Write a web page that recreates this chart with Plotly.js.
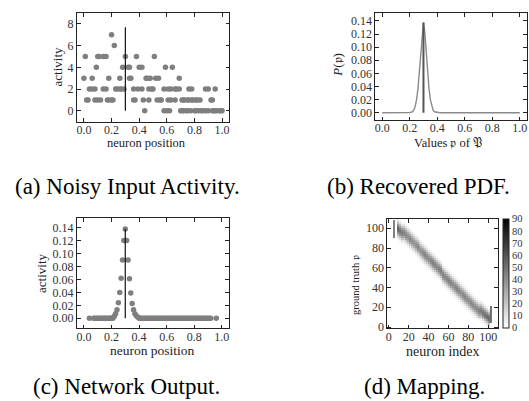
<!DOCTYPE html>
<html><head><meta charset="utf-8">
<script src="https://cdn.plot.ly/plotly-3.0.1.min.js"></script>
<style>html,body{margin:0;padding:0;background:#fff}#chart{width:529px;height:401px}</style>
</head><body><div id="chart"></div><script>
// ---------- (a) Noisy Input Activity: neuron positions grouped by activity level ----------
const actLevels = [7, 6, 5, 4, 3, 2, 1, 0];
const act7Pos = [0.20];
const act6Pos = [0.22];
const act5Pos = [0.01,0.10,0.11,0.14,0.16,0.30,0.38,0.51];
const act4Pos = [0.09,0.28,0.32,0.33,0.40,0.42,0.59,0.64];
const act3Pos = [0.00,0.06,0.18,0.26,0.33,0.34,0.45,0.46,0.48,0.52,0.54,0.69];
const act2Pos = [0.04,0.06,0.08,0.14,0.16,0.23,0.24,0.26,0.27,0.29,0.36,0.39,0.42,0.47,0.49,0.50,0.58,0.61,0.63,0.66,0.67,0.69,0.76,0.78,0.88,0.90,0.95];
const act1Pos = [0.02,0.03,0.08,0.10,0.12,0.17,0.18,0.20,0.21,0.36,0.37,0.43,0.47,0.53,0.55,0.56,0.61,0.63,0.66,0.71,0.72,0.73,0.75,0.76,0.78,0.79,0.81,0.82,0.84,0.92,0.93];
const act0Pos = [0.44,0.58,0.60,0.62,0.70,0.71,0.72,0.74,0.75,0.77,0.80,0.81,0.83,0.85,0.86,0.88,0.90,0.93,0.94,0.95,0.96,0.98,0.99,1.00];
const trueValue = 0.30;
const aLineTop = 7.7;

// ---------- (b) Recovered PDF ----------
const bX = [0.00,0.10,0.18,0.20,0.22,0.23,0.24,0.25,0.26,0.27,0.28,0.29,0.30,0.31,0.32,0.33,0.34,0.35,0.36,0.37,0.38,0.40,0.42,0.50,1.00];
const bP = [0,0,0,0.0002,0.0015,0.004,0.010,0.020,0.037,0.062,0.092,0.122,0.138,0.122,0.092,0.062,0.037,0.020,0.010,0.004,0.0015,0.0002,0,0,0];
const bLineTop = 0.137;

// ---------- (c) Network Output ----------
const cPos = [0.04,
 0.07,0.08,0.09,0.10,0.11,0.12,0.13,0.14,0.15,0.16,
 0.17,0.18,0.19,0.20,0.21,0.22,0.23,0.24,0.25,0.26,
 0.27,0.28,0.29,0.30,0.31,0.32,0.33,0.34,0.35,0.36,
 0.37,0.38,0.39,0.40,0.41,0.42,0.43,0.44,0.45,0.46,
 0.47,0.48,0.49,0.50,0.51,0.52,0.53,0.54,0.55,0.56,
 0.57,0.58,0.59,0.60,0.61,0.62,0.63,0.64,0.65,0.66,
 0.67,0.68,0.69,0.70,0.71,0.72,0.73,0.74,0.75,0.76,
 0.77,0.78,0.79,0.80,0.81,0.82,0.83,0.84,0.85,0.86,
 0.87,0.88,0.89,0.90,0.91,0.92,
 0.96];
const cAct = [0,
 0,0,0,0,0,0,0,0,0,0,
 0,0,0,0,0,0.003,0.007,0.013,0.024,0.040,
 0.062,0.090,0.120,0.138,0.120,0.090,0.061,0.039,0.023,0.013,
 0.007,0.004,0.002,0,0,0,0,0,0,0,
 0,0,0,0,0,0,0,0,0,0,
 0,0,0,0,0,0,0,0,0,0,
 0,0,0,0,0,0,0,0,0,0,
 0,0,0,0,0,0,0,0,0,0,
 0,0,0,0,0,0,
 0];
const cLineTop = 0.138;

// ---------- (d) Mapping: band of counts (neuron index vs ground truth) ----------
const dIdx = [9,11,13,15,17,19,21,23,25,27,29,31,33,35,37,39,41,43,45,47,49,51,53,55,57,59,61,63,65,67,69,71,73,75,77,79,81,83,85,87,89,91,93,95,97,99,101];
const dCenter = [100,98,96,95,93,91,89,87,85,83,81,79,77,75,73,71,69,67,65,63,61,59,57,54,52,50,48,46,44,42,40,38,36,34,32,30,28,26,24,22,20,18,17,15,13,11,9];
const dPeak = [55,50,46,44,42,40,42,40,38,40,42,40,38,42,44,42,40,43,45,44,42,44,46,44,42,43,45,43,41,42,44,42,40,42,43,41,40,42,41,40,42,44,46,48,50,52,55];
const dProfile = [8,22,45,72,92,100,92,72,45,22,8]; // percent of peak at offsets -10..10 (step 2)
const dStreakX = [5, 103];
const dStreakY0 = [91, 4];
const dStreakY1 = [107, 21];
const dStreakZ = [45, 50];
const dTicks = [0,10,20,30,40,50,60,70,80,90];

// ---------- build ----------
const W = 529, H = 401;
const fx = v => v / W, fy = v => 1 - v / H;
const serif = "'Liberation Serif', 'Times New Roman', Times, serif";
const tickCol = '#333333', lineCol = '#222222', dotCol = '#7f7f7f';

const aX = [], aY = [];
[act7Pos, act6Pos, act5Pos, act4Pos, act3Pos, act2Pos, act1Pos, act0Pos].forEach((row, i) => {
  row.forEach(p => { aX.push(p); aY.push(actLevels[i]); });
});

// heatmap grid
const gx = [], gy = [];
for (let v = 1; v < 110; v += 2) { gx.push(v); gy.push(v); }
const z = gy.map(() => gx.map(() => 0));
const half = (dProfile.length - 1) / 2;
dIdx.forEach((xc, ci) => {
  const col = gx.indexOf(xc);
  gy.forEach((yc, ri) => {
    const k = Math.round((yc - dCenter[ci]) / 2) + half;
    if (k >= 0 && k < dProfile.length) z[ri][col] = dPeak[ci] * dProfile[k] / 100;
  });
});
dStreakX.forEach((xs, si) => {
  const col = gx.indexOf(xs);
  gy.forEach((yc, ri) => {
    if (yc >= dStreakY0[si] && yc <= dStreakY1[si]) z[ri][col] = dStreakZ[si];
  });
});

const traces = [
  {type:'scatter', mode:'markers', x:aX, y:aY, xaxis:'x', yaxis:'y',
   marker:{color:dotCol, size:5.5}, hoverinfo:'skip'},
  {type:'scatter', mode:'lines', x:[trueValue,trueValue], y:[0,aLineTop], xaxis:'x', yaxis:'y',
   line:{color:'#111', width:1.2}},
  {type:'scatter', mode:'lines', x:bX, y:bP, xaxis:'x2', yaxis:'y2',
   line:{color:'#8a8a8a', width:1.4}},
  {type:'scatter', mode:'lines', x:[trueValue,trueValue], y:[0,bLineTop], xaxis:'x2', yaxis:'y2',
   line:{color:'#555', width:2}},
  {type:'scatter', mode:'markers', x:cPos, y:cAct, xaxis:'x3', yaxis:'y3',
   marker:{color:dotCol, size:5.5}},
  {type:'scatter', mode:'lines', x:[trueValue,trueValue], y:[0,cLineTop], xaxis:'x3', yaxis:'y3',
   line:{color:'#111', width:1.2}},
  {type:'heatmap', x:gx, y:gy, z:z, xaxis:'x4', yaxis:'y4', zmin:0, zmax:90,
   colorscale:[[0,'#ffffff'],[1,'#000000']], showscale:true,
   colorbar:{x:fx(503.3), xanchor:'left', y:fy(273.3), yanchor:'middle',
     thicknessmode:'pixels', thickness:6, lenmode:'pixels', len:108.7,
     xpad:0, ypad:0, outlinewidth:1, outlinecolor:lineCol,
     tickvals:dTicks, ticks:'', ticklen:0,
     tickfont:{family:serif, size:10.5, color:tickCol}}}
];

function ax(dom, range, dtick, fmt, anchor, isX) {
  const o = {domain:dom, range:range, dtick:dtick, tick0:0, tickformat:fmt, anchor:anchor,
    showline:true, mirror:'ticks', linecolor:lineCol, linewidth:1,
    ticks:'inside', ticklen:3.5, tickwidth:1, tickcolor:lineCol,
    showgrid:false, zeroline:false,
    tickfont:{family:serif, size:12, color:tickCol}};
  if (isX) o.ticklabelstandoff = -3;
  return o;
}

const layout = {
  width:W, height:H, margin:{l:0,r:0,t:0,b:0}, showlegend:false,
  font:{family:serif},
  paper_bgcolor:'#fff', plot_bgcolor:'rgba(0,0,0,0)',
  xaxis: ax([fx(77),fx(229)], [-0.05,1.05], 0.2, '.1f', 'y', true),
  yaxis: ax([fy(121.7),fy(13)], [-1,9], 2, 'd', 'x'),
  xaxis2: ax([fx(375.3),fx(526.7)], [-0.05,1.05], 0.2, '.1f', 'y2', true),
  yaxis2: ax([fy(120),fy(13)], [-0.011,0.152], 0.02, '.2f', 'x2'),
  xaxis3: ax([fx(77),fx(228.7)], [-0.05,1.05], 0.2, '.1f', 'y3', true),
  yaxis3: ax([fy(328.3),fy(218.3)], [-0.0155,0.1545], 0.02, '.2f', 'x3'),
  xaxis4: ax([fx(387.3),fx(497.7)], [-1.5,109.5], 20, 'd', 'y4', true),
  yaxis4: ax([fy(328.3),fy(219)], [-1.3,109.4], 20, 'd', 'x4'),
  annotations: []
};

function note(text, x, y, size, angle, color) {
  layout.annotations.push({text:text, x:fx(x), y:fy(y), xref:'paper', yref:'paper',
    xanchor:'center', yanchor:'middle', showarrow:false, textangle:angle||0,
    font:{family:serif, size:size, color:color||'#222'}});
}
note('neuron position', 146.7, 142.5, 12.5);
note('Values 𝔭 of 𝔓', 447.5, 142.5, 12.5);
note('neuron position', 152.5, 350.5, 13.5);
note('neuron index', 442.5, 351, 14);
note('activity', 57, 67.5, 13, -90);
note('<i>P</i>(𝔭)', 336.7, 65, 13, -90);
note('activity', 41.7, 273.3, 13, -90);
note('ground truth 𝔭', 355, 285, 10.5, -90);
note('(a) Noisy Input Activity.', 127, 186, 23, 0, '#000');
note('(b) Recovered PDF.', 418, 186, 23, 0, '#000');
note('(c) Network Output.', 126, 386, 23, 0, '#000');
note('(d) Mapping.', 424, 386, 23, 0, '#000');

Plotly.newPlot('chart', traces, layout, {staticPlot:true, displayModeBar:false});
</script></body></html>
